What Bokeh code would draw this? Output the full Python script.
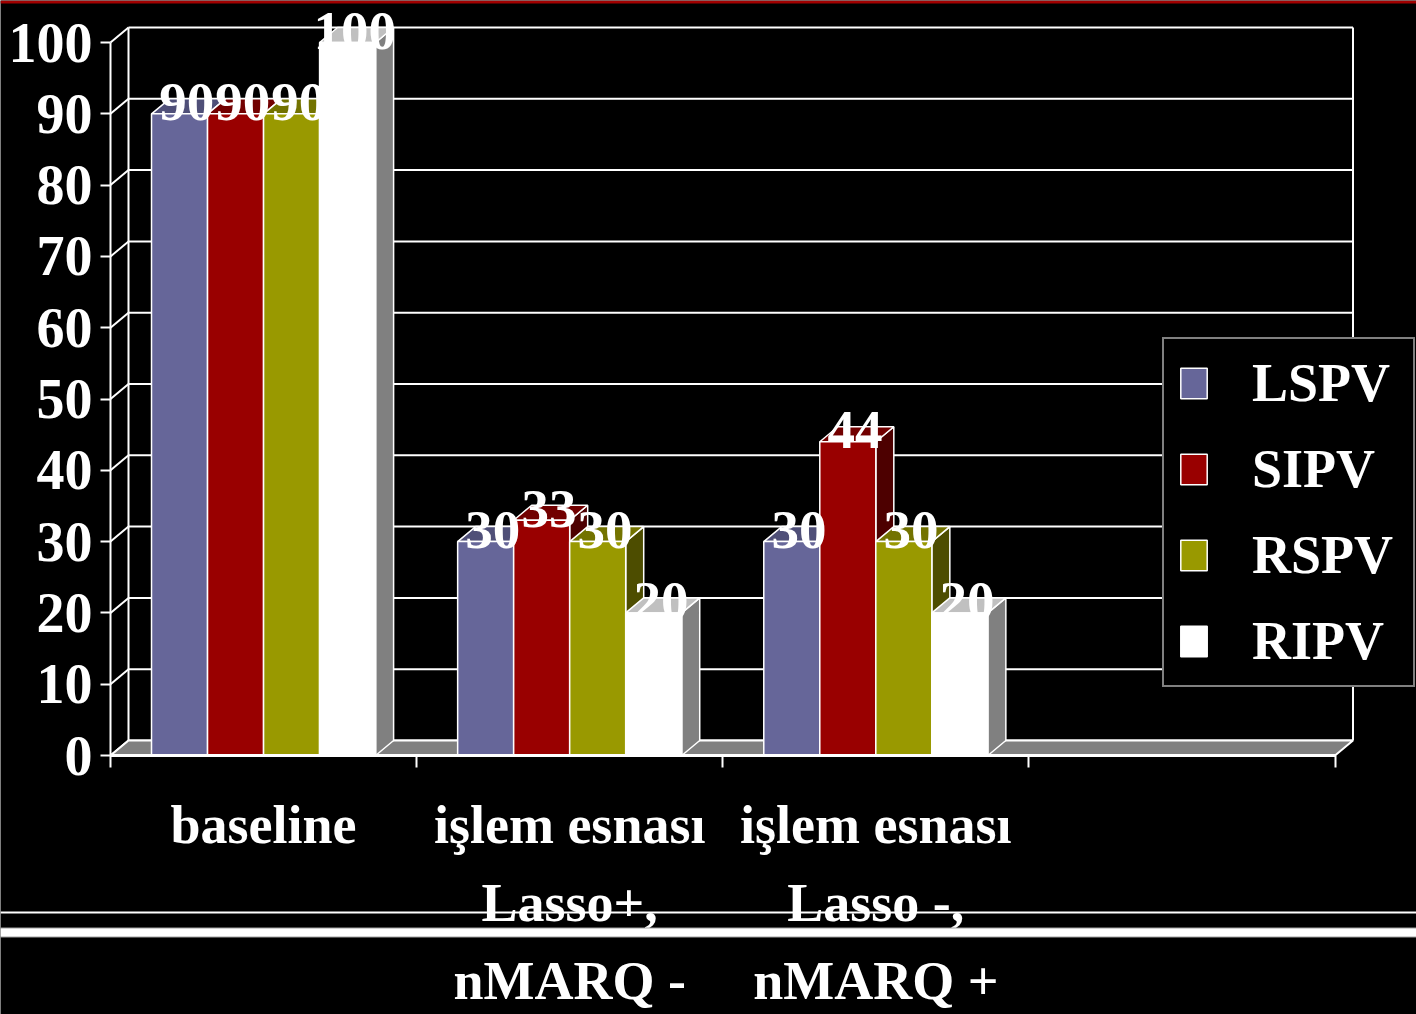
from bokeh.plotting import figure
from bokeh.models import ColumnDataSource, Span, Legend, LegendItem, FixedTicker, Range1d
from bokeh.core.properties import value
from bokeh.embed import file_html
from bokeh.resources import INLINE

# ---------------- data ----------------
categories = ["baseline", "işlem esnası\nLasso+,\nnMARQ -", "işlem esnası\nLasso -,\nnMARQ +", ""]
series_names = ["LSPV", "SIPV", "RSPV", "RIPV"]
LSPV = [90, 30, 30]
SIPV = [90, 33, 44]
RSPV = [90, 30, 30]
RIPV = [100, 20, 20]
y_ticks = [0, 10, 20, 30, 40, 50, 60, 70, 80, 90, 100]

front_colors = ["#666699", "#990000", "#999900", "#ffffff"]
top_colors = ["#4f4f78", "#720000", "#737300", "#c0c0c0"]
side_colors = ["#33334d", "#4d0000", "#4d4d00", "#808080"]

FONT = value("Liberation Serif")

# ---------------- geometry ----------------
W, H = 1416, 1014
X0PX, Y0PX = 110, 755
PX_X = (1334.5 - 110) / 4.0
PX_Y = 7.13
DX = 18 / PX_X
DY = 15 / PX_Y
BAR_W = 0.183

p = figure(width=W, height=H,
           x_range=Range1d(-X0PX / PX_X, (W - X0PX) / PX_X),
           y_range=Range1d(-(H - Y0PX) / PX_Y, Y0PX / PX_Y),
           output_backend="svg", toolbar_location=None,
           background_fill_color="black", border_fill_color="black",
           outline_line_color=None, min_border=0)
p.grid.visible = False

ncat = len(categories)
ymax = y_ticks[-1]

# walls: back-wall grid lines, left-wall diagonals, wall edges
p.segment(x0=[DX] * len(y_ticks), y0=[v + DY for v in y_ticks],
          x1=[ncat + DX] * len(y_ticks), y1=[v + DY for v in y_ticks],
          line_color="white", line_width=2)
p.segment(x0=[0] * len(y_ticks), y0=y_ticks,
          x1=[DX] * len(y_ticks), y1=[v + DY for v in y_ticks],
          line_color="white", line_width=2)
p.segment(x0=[DX, ncat + DX], y0=[DY, DY], x1=[DX, ncat + DX], y1=[ymax + DY, ymax + DY],
          line_color="white", line_width=2)

# floor
p.patch([0, ncat, ncat + DX, DX], [0, 0, DY, DY], fill_color="#808080",
        line_color="white", line_width=2)

# bars (3D faces)
series = [LSPV, SIPV, RSPV, RIPV]
xs, ys, fills = [], [], []
legend_index = {}
lab_x, lab_y, lab_t = [], [], []
nser = len(series)
for c in range(len(LSPV)):
    start = c + 0.5 - nser * BAR_W / 2
    for s in range(nser):
        h = series[s][c]
        a = start + s * BAR_W
        b = a + BAR_W
        # side
        xs.append([b, b + DX, b + DX, b]); ys.append([0, DY, h + DY, h]); fills.append(side_colors[s])
        # top
        xs.append([a, b, b + DX, a + DX]); ys.append([h, h, h + DY, h + DY]); fills.append(top_colors[s])
        # front
        if s not in legend_index:
            legend_index[s] = len(xs)
        xs.append([a, b, b, a]); ys.append([0, 0, h, h]); fills.append(front_colors[s])
        lab_x.append((a + b) / 2 + DX * 0.4)
        lab_y.append(h + 1.6)
        lab_t.append(str(h))

src = ColumnDataSource(dict(xs=xs, ys=ys, fill=fills))
bars = p.patches("xs", "ys", source=src, fill_color="fill", line_color="white", line_width=1.5)

p.text(x=lab_x, y=lab_y, text=lab_t, text_font=FONT, text_font_style="bold",
       text_font_size="55px", text_color="white", text_align="center", text_baseline="middle")

# category labels
p.text(x=[i + 0.5 for i in range(ncat)], y=[-5.6] * ncat, text=categories,
       text_font=FONT, text_font_style="bold", text_font_size="54px", text_color="white",
       text_align="center", text_baseline="top", text_line_height=1.3)

# axes
p.xaxis.fixed_location = 0
p.xaxis.ticker = FixedTicker(ticks=list(range(ncat + 1)))
p.xaxis.major_label_overrides = {i: "" for i in range(ncat + 1)}
p.xaxis.bounds = (0, ncat)
p.xaxis.axis_line_color = "white"
p.xaxis.axis_line_width = 3
p.xaxis.major_tick_line_color = "white"
p.xaxis.major_tick_line_width = 2
p.xaxis.major_tick_out = 12
p.xaxis.major_tick_in = 0
p.xaxis.minor_tick_line_color = None

p.yaxis.fixed_location = 0
p.yaxis.ticker = FixedTicker(ticks=y_ticks)
p.yaxis.bounds = (0, ymax)
p.yaxis.axis_line_color = "white"
p.yaxis.axis_line_width = 2
p.yaxis.major_tick_line_color = "white"
p.yaxis.major_tick_line_width = 2
p.yaxis.major_tick_out = 10
p.yaxis.major_tick_in = 0
p.yaxis.minor_tick_line_color = None
p.yaxis.major_label_text_font = "Liberation Serif"
p.yaxis.major_label_text_font_style = "bold"
p.yaxis.major_label_text_font_size = "56px"
p.yaxis.major_label_text_color = "white"
p.yaxis.major_label_standoff = 8

# slide decoration lines
p.add_layout(Span(location=(Y0PX - 1.5) / PX_Y, dimension="width", line_color="#a00000", line_width=3))
p.add_layout(Span(location=(Y0PX - 912) / PX_Y, dimension="width", line_color="white", line_width=2))
p.add_layout(Span(location=(Y0PX - 932) / PX_Y, dimension="width", line_color="#a0a0a0", line_width=10))
p.add_layout(Span(location=(Y0PX - 932) / PX_Y, dimension="width", line_color="white", line_width=8))

# legend
items = [LegendItem(label=series_names[s], renderers=[bars], index=legend_index[s]) for s in range(nser)]
legend = Legend(items=items, location=(1162, H - 687), orientation="vertical",
                background_fill_color="black", background_fill_alpha=1.0,
                border_line_color="white", border_line_width=2,
                label_text_font="Liberation Serif", label_text_font_style="bold",
                label_text_font_size="54px", label_text_color="white",
                glyph_width=33, glyph_height=38, label_standoff=42, label_width=148,
                padding=13, spacing=24, margin=0)
p.add_layout(legend, "center")

html = file_html(p, INLINE)
html = html.replace("<body>", '<body style="margin:0;background:#000000;">', 1)
open("out.html", "w").write(html)
